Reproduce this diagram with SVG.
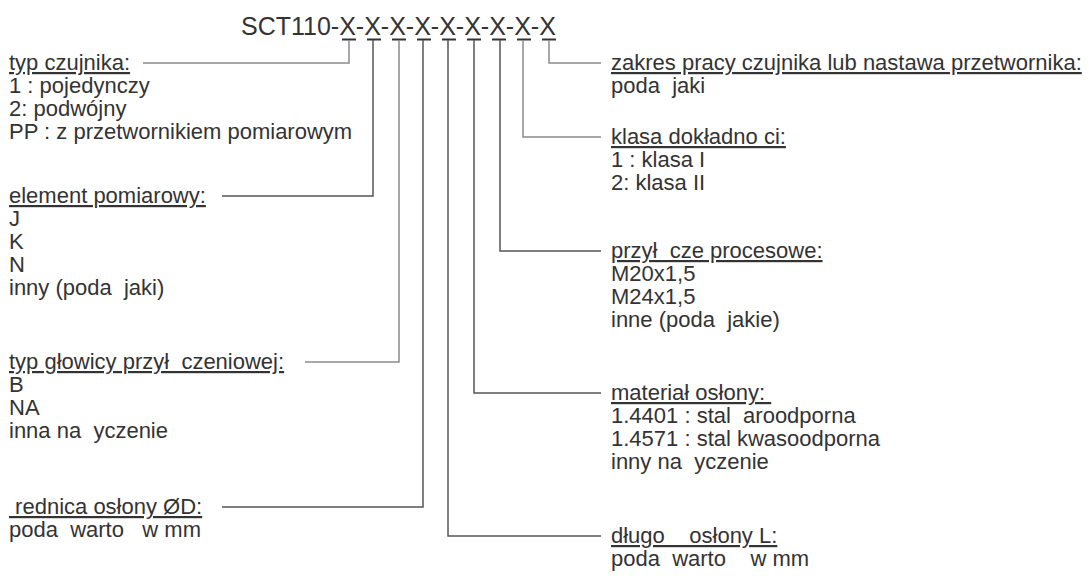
<svg xmlns="http://www.w3.org/2000/svg" width="1089" height="576" viewBox="0 0 1089 576">
<style>
text{font-family:"Liberation Sans",Arial,sans-serif;font-size:22px;fill:#333;white-space:pre}
.t{font-size:25px}
.h{text-decoration:underline}
.d{stroke:#555;stroke-width:1.5;fill:none}
.g{stroke:#8c8c8c;stroke-width:1.5;fill:none}
.u{stroke:#333;stroke-width:2}
</style>
<rect width="1089" height="576" fill="#fff"/>
<g id="title">
<text class="t" x="241" y="35">SCT110-X-X-X-X-X-X-X-X-X</text>
<path class="u" d="M342 39.5h14M367 39.5h14M392 39.5h14M417 39.5h14M442 39.5h14M467 39.5h14M492 39.5h14M517 39.5h14M542 39.5h14"/>
</g>
<g id="connectors">
<path class="g" d="M349 40V63H143"/>
<path class="d" d="M373 40V196H222"/>
<path class="g" d="M399 40V362H305"/>
<path class="d" d="M423 40V507H222"/>
<path class="d" d="M448 40V536H601"/>
<path class="d" d="M474 40V393H601"/>
<path class="d" d="M500 40V251H601"/>
<path class="g" d="M523 40V137H601"/>
<path class="g" d="M549 40V63H601"/>
</g>
<g id="typ-czujnika">
<text class="h" x="9" y="70">typ czujnika:</text>
<text x="9" y="93">1 : pojedynczy</text>
<text x="9" y="116">2: podwójny</text>
<text x="9" y="139">PP : z przetwornikiem pomiarowym</text>
</g>
<g id="element-pomiarowy">
<text class="h" x="9" y="203">element pomiarowy:</text>
<text x="9" y="226">J</text>
<text x="9" y="249">K</text>
<text x="9" y="272">N</text>
<text x="9" y="295">inny (poda  jaki)</text>
</g>
<g id="typ-glowicy">
<text class="h" x="9" y="369">typ głowicy przył  czeniowej:</text>
<text x="9" y="392">B</text>
<text x="9" y="415">NA</text>
<text x="9" y="438">inna na  yczenie</text>
</g>
<g id="srednica">
<text class="h" x="9" y="514"> rednica osłony ØD:</text>
<text x="9" y="537">poda  warto   w mm</text>
</g>
<g id="zakres">
<text class="h" x="611" y="70">zakres pracy czujnika lub nastawa przetwornika:</text>
<text x="611" y="93">poda  jaki</text>
</g>
<g id="klasa">
<text class="h" x="611" y="144">klasa dokładno ci:</text>
<text x="611" y="167">1 : klasa I</text>
<text x="611" y="190">2: klasa II</text>
</g>
<g id="przylacze">
<text class="h" x="611" y="258">przył  cze procesowe:</text>
<text x="611" y="281">M20x1,5</text>
<text x="611" y="304">M24x1,5</text>
<text x="611" y="327">inne (poda  jakie)</text>
</g>
<g id="material">
<text class="h" x="611" y="400">materiał osłony: </text>
<text x="611" y="423">1.4401 : stal  aroodporna</text>
<text x="611" y="446">1.4571 : stal kwasoodporna</text>
<text x="611" y="469">inny na  yczenie</text>
</g>
<g id="dlugosc">
<text class="h" x="611" y="543">długo    osłony L:</text>
<text x="611" y="566">poda  warto    w mm</text>
</g>
</svg>
